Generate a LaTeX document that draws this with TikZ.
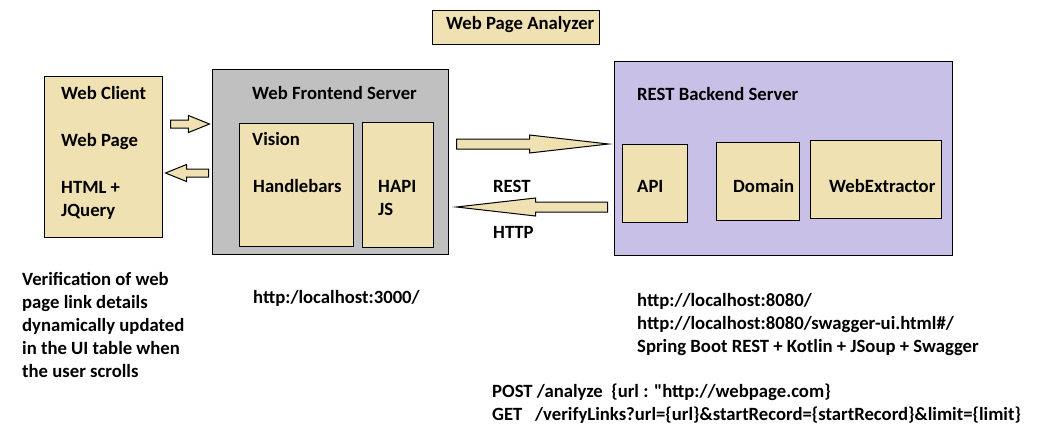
\documentclass[tikz,border=0pt]{standalone}
\usepackage{fontspec}
\setmainfont{Carlito}
\usetikzlibrary{shapes.arrows,positioning}
\definecolor{tanfill}{HTML}{EFE1B1}
\definecolor{frontgray}{HTML}{C0C0C0}
\definecolor{backlav}{HTML}{C8C0E6}
\tikzset{
  box/.style    = {draw,line width=1.2pt,anchor=north west,inner sep=0pt},
  tanbox/.style = {box,fill=tanfill},
  lbl/.style    = {anchor=base west,inner sep=0pt,align=left,
                   font=\bfseries\fontsize{18.7}{23}\selectfont},
  fatarr/.style = {single arrow,draw,line width=1pt,fill=tanfill,
                   inner xsep=0pt,anchor=tail},
  shortarr/.style = {fatarr,inner ysep=3.5pt,minimum height=39pt,minimum width=16pt,
                     single arrow head extend=4.5pt,single arrow tip angle=44},
  longarr/.style  = {fatarr,inner ysep=4.5pt,minimum height=152pt,minimum width=17pt,
                     single arrow head extend=4pt,single arrow tip angle=13},
}
\begin{document}
\begin{tikzpicture}[x=1pt,y=-1pt]
  \useasboundingbox (0,0) rectangle (1050,437);

  % title
  \node[tanbox,minimum width=167pt,minimum height=34pt] (title) at (432,10) {};
  \node[lbl] (titletxt) at (446,29) {Web Page Analyzer};

  % web client
  \node[tanbox,minimum width=118pt,minimum height=161pt] (client) at (44,76) {};
  \node[lbl] (clienttxt) at (61,99) {Web Client};
  \node[lbl] (pagetxt) at (61,146) {Web Page};
  \node[lbl] (htmltxt) at (61,216) {HTML +\\JQuery};

  % frontend server
  \node[box,fill=frontgray,minimum width=236pt,minimum height=185pt] (front) at (212,69) {};
  \node[lbl] (fronttxt) at (252,99) {Web Frontend Server};
  \node[tanbox,minimum width=114pt,minimum height=123pt] (vision) at (239,123) {};
  \node[lbl] (visiontxt) at (252,145) {Vision};
  \node[lbl] (hbtxt) at (253,192) {Handlebars};
  \node[tanbox,minimum width=71pt,minimum height=125pt] (hapi) at (362,122) {};
  \node[lbl] (hapitxt) at (378,215) {HAPI\\JS};

  % backend server
  \node[box,fill=backlav,minimum width=338pt,minimum height=194pt] (back) at (614,61) {};
  \node[lbl] (backtxt) at (637,100) {REST Backend Server};
  \node[tanbox,minimum width=65pt,minimum height=78pt] (api) at (622,144) {};
  \node[lbl] (apitxt) at (637,192) {API};
  \node[tanbox,minimum width=83pt,minimum height=78pt] (domain) at (716,142) {};
  \node[lbl] (domaintxt) at (733,192) {Domain};
  \node[tanbox,minimum width=131pt,minimum height=78pt] (webext) at (810,140) {};
  \node[lbl] (webexttxt) at (829,192) {WebExtractor};

  % block arrows
  \node[shortarr] (cl2fr) at (170,124) {};
  \node[shortarr,minimum height=43pt,shape border rotate=180] (fr2cl) at (209,173) {};
  \node[longarr] (fr2bk) at (456,144) {};
  \node[longarr,minimum height=151pt,shape border rotate=180] (bk2fr) at (608,207) {};
  \node[lbl] (resttxt) at (493,192) {REST};
  \node[lbl] (httptxt) at (493,238) {HTTP};

  % notes
  \node[lbl] (notetxt) at (22,377) {Verification of web\\page link details\\dynamically updated\\in the UI table when\\the user scrolls};
  \node[lbl] (fronturl) at (253,303) {http:/localhost:3000/};
  \node[lbl] (backurl) at (637,352) {http://localhost:8080/\\http://localhost:8080/swagger-ui.html\#/\\Spring Boot REST + Kotlin + JSoup + Swagger};
  \node[lbl] (apitxts) at (492,420) {POST /analyze\ \ \{url : \textquotedbl http://webpage.com\}\\GET\ \ \ /verifyLinks?url=\{url\}\&startRecord=\{startRecord\}\&limit=\{limit\}};
\end{tikzpicture}
\end{document}
